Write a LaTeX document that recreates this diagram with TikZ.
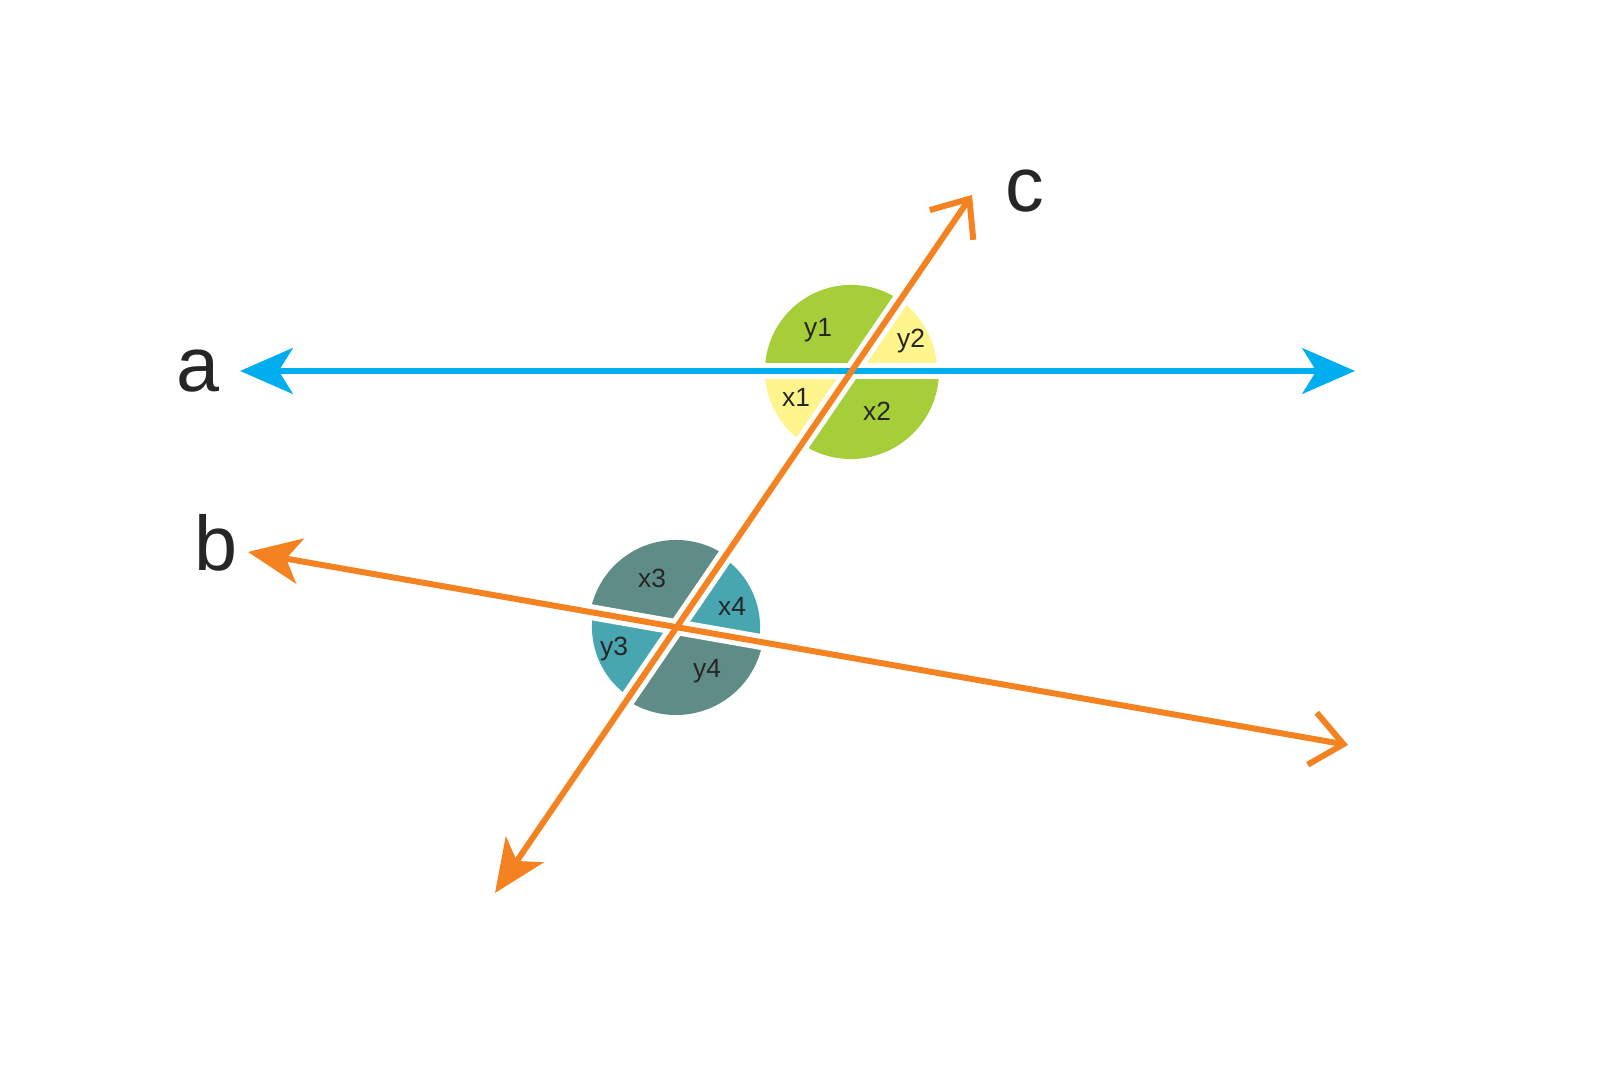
\documentclass[tikz,border=0pt]{standalone}
\usepackage{fontspec}
\setmainfont{Liberation Sans}
\usetikzlibrary{arrows.meta}
\definecolor{lineblue}{RGB}{0,174,239}
\definecolor{lineorange}{RGB}{244,130,32}
\definecolor{leafgreen}{RGB}{166,206,57}
\definecolor{paleyellow}{RGB}{255,245,140}
\definecolor{darkteal}{RGB}{95,140,135}
\definecolor{midteal}{RGB}{72,166,176}
\tikzset{
  gapline/.style={white,line width=4.5pt},
  mainline/.style={line width=1.7pt},
  solidtip/.tip={Stealth[length=15pt,width=13pt,inset=4pt]},
  opentip/.tip={Straight Barb[length=9pt,width=15pt]},
  bigletter/.style={font=\fontsize{22}{26}\selectfont,text=black!85},
  anglelabel/.style={font=\fontsize{7.5}{9}\selectfont,text=black!85}
}
\newcommand{\sector}[5]{% color, center, start, end, radius
  \fill[#1] (#2) -- ++(#3:#5) arc[start angle=#3,end angle=#4,radius=#5] -- cycle;}
\begin{document}
\begin{tikzpicture}[x=0.01cm,y=0.01cm]
   \useasboundingbox (0,0) rectangle (1600,1065);
   % crossing points and line ends
   \coordinate (P) at (851,694);
   \coordinate (Q) at (676,438);
   \coordinate (aleft) at (240,694);
   \coordinate (aright) at (1355,694);
   \coordinate (ctop) at (972,870);
   \coordinate (cbottom) at (495,172);
   \coordinate (bleft) at (248,513);
   \coordinate (bright) at (1348,320);
   % angle sectors
   \sector{leafgreen}{P}{55.8}{180}{0.86cm}
   \sector{paleyellow}{P}{0}{55.8}{0.86cm}
   \sector{paleyellow}{P}{180}{235.8}{0.86cm}
   \sector{leafgreen}{P}{235.8}{360}{0.88cm}
   \sector{darkteal}{Q}{55.8}{170}{0.87cm}
   \sector{midteal}{Q}{-10}{55.8}{0.84cm}
   \sector{midteal}{Q}{170}{235.8}{0.84cm}
   \sector{darkteal}{Q}{235.8}{350}{0.88cm}
   % gaps
   \draw[gapline] (aleft) -- (aright);
   \draw[gapline] (bleft) -- (bright);
   \draw[gapline] (cbottom) -- (ctop);
   % lines
   \draw[mainline,lineblue,solidtip-solidtip] (aleft) -- (aright);
   \draw[mainline,lineorange,solidtip-opentip] (bleft) -- (bright);
   \draw[mainline,lineorange,solidtip-opentip] (cbottom) -- (ctop);
   % labels
   \node[bigletter] (la) at (198,694) {a};
   \node[bigletter] (lb) at (216,522) {b};
   \node[bigletter] (lc) at (1025,874) {c};
   \node[anglelabel] (ly1) at (818,735) {y1};
   \node[anglelabel] (ly2) at (911,724) {y2};
   \node[anglelabel] (lx1) at (796,668) {x1};
   \node[anglelabel] (lx2) at (877,654) {x2};
   \node[anglelabel] (lx3) at (652,487) {x3};
   \node[anglelabel] (lx4) at (732,459) {x4};
   \node[anglelabel] (ly3) at (614,416) {y3};
   \node[anglelabel] (ly4) at (707,394) {y4};
\end{tikzpicture}
\end{document}
